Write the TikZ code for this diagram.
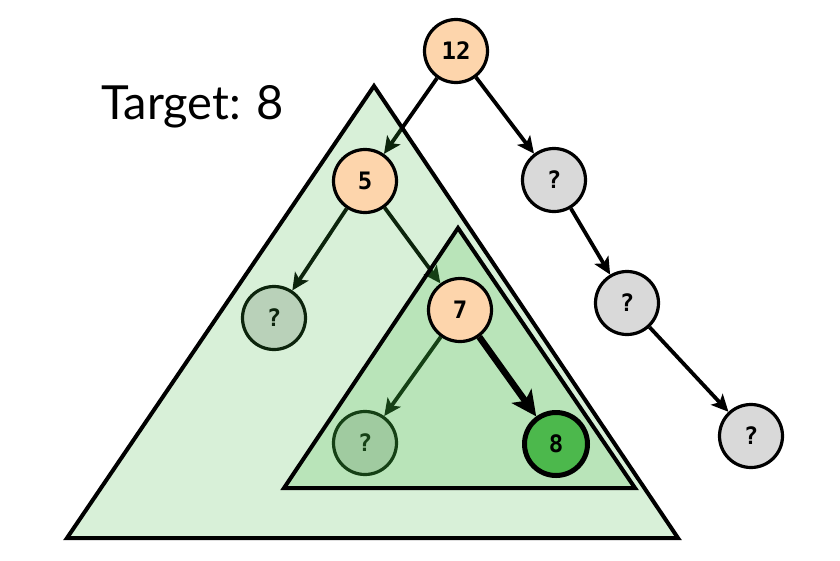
\documentclass[tikz,border=0pt]{standalone}
\usepackage{fontspec}
\setmainfont{Lato}
\newfontfamily\codefont{DejaVu Sans Mono}[BoldFont={DejaVu Sans Mono Bold}]
\usetikzlibrary{arrows.meta}
\definecolor{peach}{HTML}{FDD5AC}
\definecolor{lgray}{HTML}{D9D9D9}
\definecolor{trig}{RGB}{60,180,60}
\definecolor{found}{HTML}{4CB84C}
\newcommand{\nodetext}[1]{{\codefont\bfseries\fontsize{24}{24}\selectfont #1}}
\tikzset{
  tnode/.style={circle, draw=black, line width=3.2pt, minimum size=63pt, inner sep=0pt},
  peachnode/.style={tnode, fill=peach},
  graynode/.style={tnode, fill=lgray},
  edge/.style={line width=3.8pt, -{Stealth[length=17pt,width=16pt,inset=4pt]}},
  bigedge/.style={line width=6.5pt, -{Stealth[length=25pt,width=24pt,inset=6pt]}},
  tri/.style={fill=trig, fill opacity=0.2, draw=black, line width=4pt, line join=miter}
}
\begin{document}
\begin{tikzpicture}[x=1pt,y=-1pt]
\useasboundingbox (0,0) rectangle (840,560);
\path (456,51) coordinate (c12) (365,181) coordinate (c5) (460,310) coordinate (c7) (556,444) coordinate (c8);
% gray nodes (below triangles)
\node[graynode] (g1) at (554,180) {\nodetext{?}};
\node[graynode] (g2) at (627,303) {\nodetext{?}};
\node[graynode] (g3) at (751,436) {\nodetext{?}};
\node[graynode] (l1) at (274,318) {\nodetext{?}};
\node[graynode] (l2) at (365,443) {\nodetext{?}};
% phantom anchors for the peach nodes
\node[peachnode, draw=none, fill=none] (p12) at (c12) {};
\node[peachnode, draw=none, fill=none] (p5) at (c5) {};
\node[peachnode, draw=none, fill=none] (p7) at (c7) {};
% edges under triangles
\draw[edge] (p12) -- (p5);
\draw[edge] (p12) -- (g1);
\draw[edge] (g1) -- (g2);
\draw[edge] (g2) -- (g3);
\draw[edge] (p5) -- (l1);
\draw[edge] (p5) -- (p7);
\draw[edge] (p7) -- (l2);
% triangles
\draw[tri] (374,86) -- (678,538) -- (67,538) -- cycle;
\draw[tri] (458,228) -- (635,488) -- (284,488) -- cycle;
% top nodes
\node[peachnode] (n12) at (c12) {\nodetext{12}};
\node[peachnode] (n5) at (c5) {\nodetext{5}};
\node[peachnode] (n7) at (c7) {\nodetext{7}};
\node[tnode, fill=found, line width=5pt] (n8) at (c8) {\nodetext{8}};
\draw[bigedge] (n7) -- (n8);
% label
\node[anchor=base west, inner sep=0pt, font=\fontsize{47}{47}\selectfont] (lbl) at (101,119) {Target: 8};
\end{tikzpicture}
\end{document}
